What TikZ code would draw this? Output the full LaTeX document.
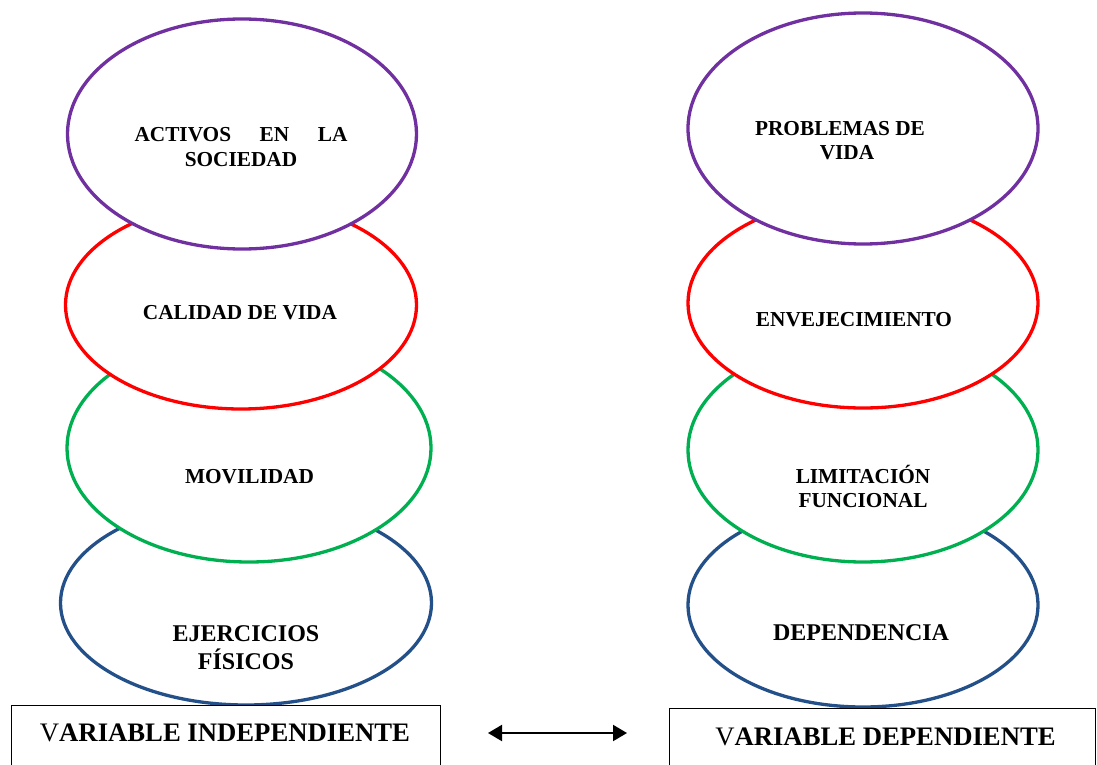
\documentclass[tikz,border=0pt]{standalone}
\usepackage{fontspec}
\setmainfont{Liberation Serif}
\usetikzlibrary{shapes.geometric,arrows.meta}
\definecolor{ringpurple}{HTML}{7030A0}
\definecolor{ringred}{HTML}{FF0000}
\definecolor{ringgreen}{HTML}{00B050}
\definecolor{ringblue}{HTML}{24508A}
\begin{document}
\begin{tikzpicture}[x=1pt,y=-1pt,
  ring/.style={ellipse, draw=#1, line width=3.3pt, fill=white, inner sep=0pt},
  ringtext/.style={font=\fontsize{21.3}{24.5}\selectfont\bfseries, align=center, inner sep=0pt},
  basetext/.style={font=\fontsize{24}{27.5}\selectfont\bfseries, align=center, inner sep=0pt},
  varbox/.style={draw=black, line width=1.2pt, fill=white, inner sep=0pt, anchor=north west},
  vartext/.style={font=\fontsize{26.7}{30}\selectfont\bfseries, inner sep=0pt},
  link/.style={line width=2pt, {Triangle[length=14pt,width=16pt]}-{Triangle[length=14pt,width=16pt]}}
]
\clip (0,0) rectangle (1097,765);

% independent variable column, drawn bottom to top so each ring covers the one below
\node[ring=ringblue,   minimum width=371, minimum height=204] (ejer) at (246,603) {};
\node[ring=ringgreen,  minimum width=364, minimum height=228] (movi) at (249,448) {};
\node[ring=ringred,    minimum width=351, minimum height=208] (cali) at (241,305) {};
\node[ring=ringpurple, minimum width=349, minimum height=230] (acti) at (242,134) {};

\node[ringtext] (actit) at (241,147) {\makebox[213pt]{ACTIVOS\hfill EN\hfill LA}\\SOCIEDAD};
\node[ringtext] (calit) at (240,313) {CALIDAD DE VIDA};
\node[ringtext] (movit) at (249.5,477) {MOVILIDAD};
\node[basetext] (ejert) at (246,648) {EJERCICIOS\\[0.5pt]FÍSICOS};

% dependent variable column
\node[ring=ringblue,   minimum width=350, minimum height=204] (depe) at (863,605) {};
\node[ring=ringgreen,  minimum width=350, minimum height=224] (limi) at (863,450) {};
\node[ring=ringred,    minimum width=350, minimum height=210] (enve) at (863,303) {};
\node[ring=ringpurple, minimum width=350, minimum height=231] (prob) at (863,128.5) {};

\node[ringtext] (probt) at (847,140.5) {PROBLEMAS DE\hspace*{14pt}\\VIDA};
\node[ringtext] (envet) at (854,320) {ENVEJECIMIENTO};
\node[ringtext] (limit) at (863,486.5) {LIMITACIÓN\\FUNCIONAL};
\node[basetext] (depet) at (861,633) {DEPENDENCIA};

% variable boxes
\node[varbox, minimum width=429, minimum height=75] (indep) at (11,705) {};
\node[varbox, minimum width=426, minimum height=72] (dep) at (669,708) {};
\node[vartext] (indept) at (225,733) {\textmd{V}ARIABLE INDEPENDIENTE};
\node[vartext] (dept) at (885.5,737) {\textmd{V}ARIABLE DEPENDIENTE};

% relation between the two variables
\coordinate (linkl) at (488,733);
\coordinate (linkr) at (627,733);
\draw[link] (linkl) -- (linkr);
\end{tikzpicture}
\end{document}
